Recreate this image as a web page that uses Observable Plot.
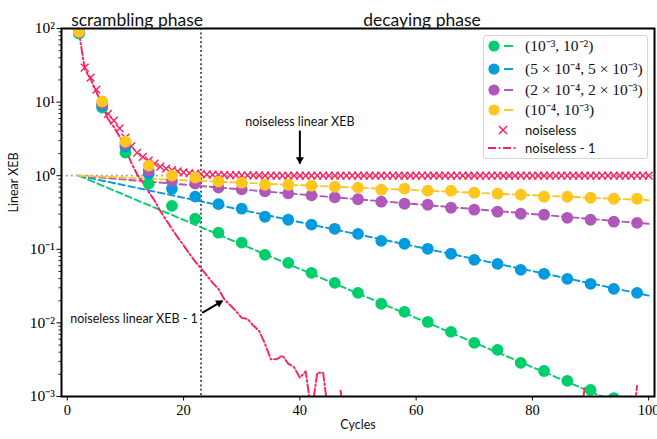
<!DOCTYPE html>
<html><head><meta charset="utf-8">
<script src="https://cdn.jsdelivr.net/npm/d3@7"></script>
<script src="https://cdn.jsdelivr.net/npm/@observablehq/plot@0.6"></script>
<style>
body{margin:0;background:#fff;}
#wrap{position:relative;width:657px;height:439px;}
#legend{position:absolute;left:483px;top:35px;width:165px;height:124px;border:1px solid #d4d4d4;border-radius:3px;background:rgba(255,255,255,0.85);box-sizing:border-box;}
.row{position:absolute;left:0;height:20px;width:164px;}
.row svg{position:absolute;left:0;top:0;}
.row span{position:absolute;left:41px;top:0;line-height:20px;white-space:nowrap;color:#111;}
.math{font-family:"Liberation Serif",serif;font-size:15.5px;}
.txt{font-family:Lato,sans-serif;font-size:13px;}
</style>
</head><body>
<div id="wrap"></div>
<script>
// ---------- data ----------
const sampleCycles = [2,6,10,14,18,22,26,30,34,38,42,46,50,54,58,62,66,70,74,78,82,86,90,94,98];
const seriesNames = ["(10⁻³, 10⁻²)", "(5 × 10⁻⁴, 5 × 10⁻³)", "(2 × 10⁻⁴, 2 × 10⁻³)", "(10⁻⁴, 10⁻³)"];
const seriesColors = ["#00CD6C", "#009ADE", "#AF58BA", "#FFC61E"];
const greenXEB = [85.5, 8.4, 2.06, 0.78, 0.39, 0.26, 0.168, 0.123, 0.084, 0.0655, 0.0479, 0.035, 0.0256, 0.0182, 0.0141, 0.0103, 0.00755, 0.00535, 0.0043, 0.00286, 0.00222, 0.00163, 0.00123, 0.00095, 0.0007];
const blueXEB = [88, 9.0, 2.48, 1.06, 0.665, 0.52, 0.41, 0.356, 0.277, 0.252, 0.216, 0.19, 0.162, 0.13, 0.119, 0.1016, 0.087, 0.072, 0.0635, 0.0526, 0.0465, 0.0397, 0.034, 0.029, 0.0256];
const purpleXEB = [89, 9.5, 2.7, 1.17, 0.85, 0.78, 0.69, 0.651, 0.611, 0.576, 0.541, 0.508, 0.479, 0.443, 0.416, 0.403, 0.367, 0.345, 0.324, 0.304, 0.295, 0.268, 0.252, 0.237, 0.229];
const yellowXEB = [90, 10.2, 2.9, 1.37, 1.0, 0.94, 0.83, 0.803, 0.754, 0.754, 0.73, 0.708, 0.687, 0.645, 0.666, 0.625, 0.625, 0.587, 0.569, 0.551, 0.518, 0.518, 0.502, 0.486, 0.486];
// fitted exponential decays (straight on log axis): start / end cycle and value
const fitCycles = [2, 100];
const fitStart = [1, 1, 1, 1];
const fitEnd = [0.00054, 0.0235, 0.222, 0.464];

const noiselessCycles = d3.range(2, 101);
const noiseless = [90, 29.5, 21.5, 14.8, 10.0, 6.9, 5.6, 4.4, 3.3, 2.5,
  2.05, 1.8, 1.6, 1.46, 1.33, 1.25, 1.19, 1.145, 1.113, 1.087,
  1.068, 1.055, 1.044, 1.035, 1.029, 1.021, 1.018, 1.015, 1.012, 1.011,
  1.009, 1.008, 1.005, 1.003, 1.003, 1.004, 1.003, 1.002, 1.002, 1.002,
  1.001, 1.002, 1.002, 1.001, 1.0, 1.001,
  1.000, 0.999, 1.000, 1.000, 0.999, 1.000, 1.001, 1.000, 0.999, 1.000,
  1.000, 1.000, 0.999, 1.000, 1.000, 1.000, 0.999, 1.000, 1.000, 0.999,
  1.000, 1.000, 1.000, 0.999, 1.000, 1.000, 1.000, 1.000, 0.999, 1.000,
  1.000, 0.999, 1.000, 1.000, 1.000, 0.999, 1.000, 1.000, 1.000, 0.999,
  1.000, 1.001, 1.000, 0.999, 1.000, 1.000, 1.000, 0.999, 1.000, 1.000,
  1.001, 1.000, 1.000];
const noiselessMinus1 = [89, 28.5, 20.5, 13.8, 9.0, 5.9, 4.6, 3.4, 2.3, 1.5,
  1.05, 0.8, 0.6, 0.46, 0.33, 0.25, 0.19, 0.145, 0.113, 0.087,
  0.068, 0.055, 0.044, 0.035, 0.029, 0.021, 0.0175, 0.0145, 0.0117, 0.0113,
  0.0092, 0.0078, 0.0052, 0.0032, 0.0032, 0.0036, 0.0028, 0.0025, 0.0018, 0.0022,
  0.0006, 0.0021, 0.0021, 0.0005, null, 0.0012, 0.0004, null, null, null,
  null, null, null, null, null, null, null, null, null, null,
  null, null, null, null, null, null, null, null, null, null,
  null, null, null, null, null, null, null, null, null, null,
  null, null, null, null, null, null, 0.0004, 0.0013, null, null,
  null, null, null, null, null, 0.0003, 0.0014, null, null];

const xTicks = [0, 20, 40, 60, 80, 100];
const yTicks = [1e-3, 1e-2, 1e-1, 1, 10, 100];
const phaseLabels = ["scrambling phase", "decaying phase"];
const phaseLabelX = [12, 61];
const scrambleEnd = 23;
const annotTop = {text: "noiseless linear XEB", x: 40, y: 5.43, x1: 40, y1: 4.1, x2: 40, y2: 1.457};
const annotBottom = {text: "noiseless linear XEB - 1", x: 0.5, y: 0.0113, x1: 23.2, y1: 0.01368, x2: 26.7, y2: 0.0199};
const RED = "#FF1F5B";

// ---------- tables ----------
const seriesVals = [greenXEB, blueXEB, purpleXEB, yellowXEB];
const noiselessRows = noiselessCycles.map((c, i) => ({c, v: noiseless[i]}));
const nm1Rows = noiselessCycles.map((c, i) => ({c, v: noiselessMinus1[i]}));
const minorTicks = [];
for (let e = -3; e < 2; e++) for (let k = 2; k < 10; k++) minorTicks.push(k * Math.pow(10, e));
const supMap = {"-": "⁻", "0": "⁰", "1": "¹", "2": "²", "3": "³", "4": "⁴", "5": "⁵", "6": "⁶", "7": "⁷", "8": "⁸", "9": "⁹"};
const fmtPow = d => "10" + String(Math.round(Math.log10(d))).split("").map(ch => supMap[ch]).join("");

const seriesMarks = seriesVals.map((vals, s) => {
  const fit = fitCycles.map((c, j) => ({c, v: j === 0 ? fitStart[s] : fitEnd[s]}));
  return Plot.line(fit, {x: "c", y: "v", stroke: seriesColors[s], strokeWidth: 1.9, strokeDasharray: "6.5,3.6", clip: true});
});
const dotMarks = seriesVals.map((vals, s) =>
  Plot.dot(sampleCycles.map((c, i) => ({c, v: vals[i]})), {x: "c", y: "v", r: 5.9, fill: seriesColors[s], stroke: "none", clip: true}));

const chart = Plot.plot({
  width: 657, height: 439,
  marginLeft: 61, marginRight: 3, marginTop: 28, marginBottom: 43,
  style: {background: "white", fontFamily: "Lato, sans-serif", overflow: "visible"},
  x: {domain: [-1, 101], label: null},
  y: {type: "log", domain: [1e-3, 1e2], label: null},
  marks: [
    Plot.ruleY([1], {stroke: "#999", strokeWidth: 1.8, strokeDasharray: "1.8,3.2", clip: true}),
    Plot.ruleX([scrambleEnd], {stroke: "#3b3b30", strokeWidth: 1.8, strokeDasharray: "1.8,2.6"}),
    ...seriesMarks,
    Plot.line(nm1Rows, {x: "c", y: "v", stroke: RED, strokeWidth: 1.9, strokeDasharray: "8,2.6,1.8,2.6", clip: true}),
    Plot.dot(noiselessRows, {x: "c", y: "v", symbol: "times", r: 3.6, stroke: RED, strokeWidth: 1.4, clip: true}),
    ...dotMarks,
    Plot.axisY(minorTicks, {tickSize: 2.5, tickFormat: () => "", strokeWidth: 0.9, label: null}),
    Plot.axisY(yTicks, {tickSize: 4.5, tickPadding: 2, tickFormat: fmtPow, fontFamily: "Liberation Serif, serif", fontSize: 15.5, strokeWidth: 1, label: null}),
    Plot.axisX(xTicks, {tickSize: 4.5, tickPadding: 4, fontFamily: "Liberation Serif, serif", fontSize: 14.5, strokeWidth: 1, label: null}),
    Plot.frame({stroke: "black", strokeWidth: 2}),
    Plot.text(phaseLabels.map((t, i) => ({t, x: phaseLabelX[i]})), {x: "x", text: "t", frameAnchor: "top", dy: -15, fontSize: 17.5, fill: "#111"}),
    Plot.text(["Cycles"], {frameAnchor: "bottom", dy: 32, fontSize: 12.5, fill: "#111"}),
    Plot.text(["Linear XEB"], {frameAnchor: "left", dx: -48, rotate: -90, fontSize: 12.5, fill: "#111"}),
    Plot.text([annotTop], {x: "x", y: "y", text: "text", fontSize: 12.5, fill: "#111"}),
    Plot.link([annotTop], {x1: "x1", y1: "y1", x2: "x2", y2: "y2", stroke: "black", strokeWidth: 2}),
    Plot.dot([annotTop], {x: "x2", y: "y2", symbol: "triangle", r: 3, fill: "black", rotate: 180, dy: -4}),
    Plot.text([annotBottom], {x: "x", y: "y", text: "text", textAnchor: "start", fontSize: 12.5, fill: "#111"}),
    Plot.link([annotBottom], {x1: "x1", y1: "y1", x2: "x2", y2: "y2", stroke: "black", strokeWidth: 2}),
    Plot.dot([annotBottom], {x: "x2", y: "y2", symbol: "triangle", r: 3, fill: "black", rotate: 60, dx: -3.5, dy: 2})
  ]
});
const wrap = document.getElementById("wrap");
wrap.appendChild(chart);

// ---------- legend ----------
const legend = document.createElement("div");
legend.id = "legend";
wrap.appendChild(legend);
const rowCenters = [10, 33, 54, 74, 94, 112];
function addRow(i, label, cls, draw) {
  const row = document.createElement("div");
  row.className = "row";
  row.style.top = (rowCenters[i] - 10) + "px";
  const svg = d3.create("svg").attr("width", 40).attr("height", 20);
  draw(svg);
  row.appendChild(svg.node());
  const sp = document.createElement("span");
  sp.className = cls;
  sp.textContent = label;
  row.appendChild(sp);
  legend.appendChild(row);
}
seriesNames.forEach((name, s) => {
  addRow(s, name, "math", svg => {
    svg.append("circle").attr("cx", 10).attr("cy", 10).attr("r", 5.6).attr("fill", seriesColors[s]);
    svg.append("line").attr("x1", 20).attr("x2", 29).attr("y1", 10).attr("y2", 10).attr("stroke", seriesColors[s]).attr("stroke-width", 1.9);
  });
});
addRow(4, "noiseless", "txt", svg => {
  svg.append("path").attr("d", "M15,6L23,14M15,14L23,6").attr("stroke", RED).attr("stroke-width", 1.5).attr("fill", "none");
});
addRow(5, "noiseless - 1", "txt", svg => {
  svg.append("line").attr("x1", 4).attr("x2", 32).attr("y1", 10).attr("y2", 10).attr("stroke", RED).attr("stroke-width", 1.8).attr("stroke-dasharray", "8,2.6,1.8,2.6");
});
</script>
</body></html>
